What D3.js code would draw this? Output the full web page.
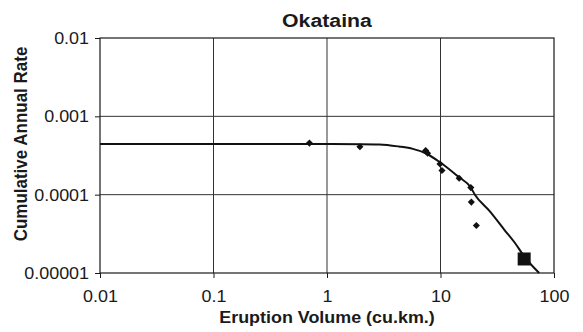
<!DOCTYPE html>
<html>
<head>
<meta charset="utf-8">
<script src="https://cdn.jsdelivr.net/npm/d3@7/dist/d3.min.js"></script>
<style>
  body { margin: 0; background: #fff; }
  svg text { font-family: "Liberation Sans", Arial, sans-serif; fill: #1a1a1a; }
</style>
</head>
<body>
<figure id="chart" style="margin:0"></figure>
<script>
// observed eruptions (volume in cu.km., cumulative annual rate)
const obsVolume = [0.70, 1.95, 7.4, 7.7, 9.9, 10.3, 14.6, 18.5, 18.7, 20.7]
const obsRate = [4.55e-4, 4.08e-4, 3.65e-4, 3.38e-4, 2.47e-4, 2.03e-4, 1.62e-4, 1.23e-4, 8.04e-5, 4.04e-5]

// large event (square marker)
const bigVolume = [54.6]
const bigRate = [1.51e-5]

// fitted curve
const fitVolume = [0.01, 1, 2, 2.9, 4.3, 5.7, 7.4, 9.9, 14.1, 18.5, 20.1, 27, 36.4, 45, 54.6, 74]
const fitRate = [4.42e-4, 4.42e-4, 4.41e-4, 4.38e-4, 4.12e-4, 3.84e-4, 3.38e-4, 2.59e-4, 1.73e-4, 1.23e-4, 1.0e-4, 6.2e-5, 3.59e-5, 2.45e-5, 1.63e-5, 1.0e-5]

const xTicks = [0.01, 0.1, 1, 10, 100]
const xTickLabels = ['0.01', '0.1', '1', '10', '100']
const yTicks = [0.00001, 0.0001, 0.001, 0.01]
const yTickLabels = ['0.00001', '0.0001', '0.001', '0.01']

const margin = { top: 38, right: 29, bottom: 59, left: 100 }
const width = 583 - margin.left - margin.right
const height = 332 - margin.top - margin.bottom
const stretch = 1.12 // the original is a little wider than tall in its lettering

const svg = d3.select('figure#chart')
    .append('svg')
    .attr('width', 583)
    .attr('height', 332)

const g = svg.append('g')
    .attr('transform', `translate(${margin.left}, ${margin.top})`)

const x = d3.scaleLog().domain([0.01, 100]).range([0, width])
const y = d3.scaleLog().domain([0.00001, 0.01]).range([height, 0])

// gridlines
g.selectAll('.vgrid')
    .data(xTicks.slice(1, -1))
    .join('line')
    .attr('class', 'vgrid')
    .attr('x1', d => x(d)).attr('x2', d => x(d))
    .attr('y1', 0).attr('y2', height)
    .attr('stroke', '#333').attr('stroke-width', 1)
g.selectAll('.hgrid')
    .data(yTicks.slice(1, -1))
    .join('line')
    .attr('class', 'hgrid')
    .attr('x1', 0).attr('x2', width)
    .attr('y1', d => y(d)).attr('y2', d => y(d))
    .attr('stroke', '#333').attr('stroke-width', 1)

// frame
g.append('rect')
    .attr('width', width).attr('height', height)
    .attr('fill', 'none').attr('stroke', '#1a1a1a').attr('stroke-width', 1.2)

// axes
const xAxis = d3.axisBottom(x)
    .tickValues(xTicks)
    .tickFormat((d, i) => xTickLabels[i])
    .tickSizeInner(5).tickSizeOuter(0)
const yAxis = d3.axisLeft(y)
    .tickValues(yTicks)
    .tickFormat((d, i) => yTickLabels[i])
    .tickSizeInner(5).tickSizeOuter(0)

const ax = g.append('g').attr('transform', `translate(0, ${height})`).call(xAxis)
const ay = g.append('g').call(yAxis)
for (const a of [ax, ay]) {
    a.select('.domain').remove()
    a.selectAll('line').attr('stroke', '#1a1a1a')
    a.selectAll('text').attr('font-size', '16px').style('fill', '#1a1a1a')
        .attr('transform', `scale(${stretch}, 1)`)
}
ax.selectAll('text').attr('x', 0).attr('y', 29).attr('dy', 0)
ay.selectAll('text').attr('x', -11 / stretch).attr('dy', '0.35em')

// fitted curve
const fit = fitVolume.map((v, i) => ({ x: v, y: fitRate[i] }))
const line = d3.line()
    .x(d => x(d.x))
    .y(d => y(d.y))
    .curve(d3.curveMonotoneX)
g.append('path')
    .attr('d', line(fit))
    .attr('fill', 'none')
    .attr('stroke', '#111')
    .attr('stroke-width', 2)

// diamonds
const diamond = d3.symbol().type(d3.symbolDiamond2).size(32)
g.selectAll('.obs')
    .data(obsVolume.map((v, i) => ({ x: v, y: obsRate[i] })))
    .join('path')
    .attr('class', 'obs')
    .attr('d', diamond)
    .attr('transform', d => `translate(${x(d.x)}, ${y(d.y)})`)
    .attr('fill', '#111')

// square marker
const sq = 13
g.selectAll('.big')
    .data(bigVolume.map((v, i) => ({ x: v, y: bigRate[i] })))
    .join('rect')
    .attr('class', 'big')
    .attr('x', d => x(d.x) - sq / 2)
    .attr('y', d => y(d.y) - sq / 2)
    .attr('width', sq).attr('height', sq)
    .attr('fill', '#111')

// titles
svg.append('text')
    .attr('transform', `translate(${margin.left + width / 2}, 27) scale(${stretch}, 1)`)
    .attr('text-anchor', 'middle')
    .attr('font-size', '19px').attr('font-weight', 'bold')
    .text('Okataina')
svg.append('text')
    .attr('transform', `translate(${margin.left + width / 2}, 323) scale(${stretch}, 1)`)
    .attr('text-anchor', 'middle')
    .attr('font-size', '16px').attr('font-weight', 'bold')
    .text('Eruption Volume (cu.km.)')
svg.append('text')
    .attr('transform', `translate(27, 144) rotate(-90) scale(1, ${stretch})`)
    .attr('text-anchor', 'middle')
    .attr('font-size', '17px').attr('font-weight', 'bold')
    .text('Cumulative Annual Rate')
</script>
</body>
</html>
